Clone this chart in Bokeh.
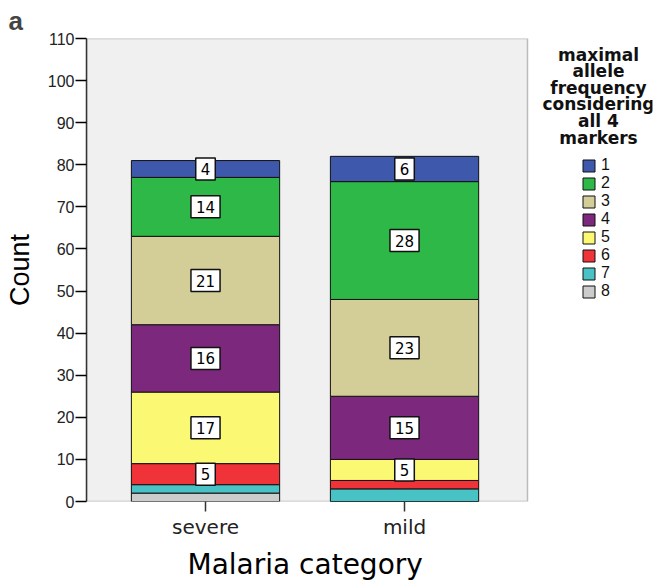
from bokeh.plotting import figure
from bokeh.models import (ColumnDataSource, Label, Legend, LegendItem, Title, Range1d,
                          BoxAnnotation, FixedTicker)
from bokeh.core.properties import value
from bokeh.embed import file_html
from bokeh.resources import INLINE

categories = ["severe", "mild"]
groups = ["1", "2", "3", "4", "5", "6", "7", "8"]
count_1 = [4, 6]
count_2 = [14, 28]
count_3 = [21, 23]
count_4 = [16, 15]
count_5 = [17, 5]
count_6 = [5, 2]
count_7 = [2, 3]
count_8 = [2, 0]
colors = ["#3E58AC", "#2EB848", "#D3CE97", "#7C287D", "#FBF873", "#EF3338", "#48C2C5", "#CCCCCC"]
y_ticks = list(range(0, 111, 10))
legend_title = "maximal\nallele\nfrequency\nconsidering\nall 4\nmarkers"
x_title = "Malaria category"
y_title = "Count"

series = [count_1, count_2, count_3, count_4, count_5, count_6, count_7, count_8]
x_pos = list(range(len(categories)))
data = {"x": x_pos, "cat": categories}
for g, s in zip(groups, series):
    data["c" + g] = s
source = ColumnDataSource(data)

p = figure(x_range=Range1d(-0.598, 2.246), y_range=Range1d(0, 110),
           frame_width=566, frame_height=463,
           output_backend="svg", toolbar_location=None,
           min_border_left=86, min_border_right=8, min_border_top=37, min_border_bottom=88)
p.background_fill_color = "white"
p.border_fill_color = "white"
p.outline_line_color = None
p.grid.visible = False

# grey chart area with its frame
p.add_layout(BoxAnnotation(right=1.618, fill_color="#F0F0F0", fill_alpha=1,
                           line_color="#333333", line_width=1.5, level="underlay"))

# stack from bottom (8) to top (1)
stack_order = list(reversed(groups))
renderers = p.vbar_stack(["c" + g for g in stack_order], x="x", width=0.745, source=source,
                         color=[colors[groups.index(g)] for g in stack_order],
                         line_color="#111111", line_width=1)
rmap = {g: r for g, r in zip(stack_order, renderers)}

# value labels (only segments >= 4)
lx, ly, lt = [], [], []
for ci in x_pos:
    base = 0
    for g in stack_order:
        v = series[groups.index(g)][ci]
        if v >= 4:
            lx.append(ci)
            ly.append(base + v / 2)
            lt.append(str(v))
        base += v
lsrc = ColumnDataSource(dict(x=lx, y=ly, t=lt))
p.text(x="x", y="y", text="t", source=lsrc, text_align="center", text_baseline="middle",
       text_font=value("DejaVu Sans"), text_font_size="15px", text_color="black",
       padding=5, background_fill_color="white", border_line_color="#111111", border_line_width=1.5)

# y axis
p.yaxis.ticker = y_ticks
p.yaxis.axis_label = y_title
p.yaxis.axis_label_text_font = "Liberation Sans"
p.yaxis.axis_label_text_font_size = "27px"
p.yaxis.axis_label_text_font_style = "normal"
p.yaxis.axis_label_text_color = "black"
p.yaxis.axis_label_standoff = 10
p.yaxis.major_label_text_font = "Liberation Sans"
p.yaxis.major_label_text_font_size = "16px"
p.yaxis.major_label_text_color = "#222222"
p.yaxis.minor_tick_line_color = None
p.yaxis.major_tick_in = 0
p.yaxis.major_tick_out = 11
p.yaxis.axis_line_color = "#333333"
p.yaxis.axis_line_width = 1.5
p.yaxis.major_tick_line_width = 1.5
p.yaxis.major_label_standoff = 1

# x axis (ticks only at the two categories)
p.xaxis.ticker = FixedTicker(ticks=x_pos)
p.xaxis.major_label_overrides = {i: c for i, c in zip(x_pos, categories)}
p.xaxis.minor_tick_line_color = None
p.xaxis.axis_line_color = None
p.xaxis.major_label_text_font = "DejaVu Sans"
p.xaxis.major_label_text_font_size = "20px"
p.xaxis.major_label_text_color = "#222222"
p.xaxis.major_tick_in = 0
p.xaxis.major_tick_out = 10
p.xaxis.major_tick_line_color = "#333333"
p.xaxis.major_tick_line_width = 1.5
p.xaxis.major_label_standoff = 3

# x axis title, centred under the grey chart area
p.add_layout(Title(text=x_title, align="left", offset=101, text_font="DejaVu Sans",
                   text_font_size="28px", text_font_style="normal", text_color="black",
                   standoff=8), "below")

# legend title
p.add_layout(Label(x=512, y=457, x_units="screen", y_units="screen",
                   text=legend_title,
                   text_align="center", text_baseline="top", text_line_height=0.83,
                   text_font="DejaVu Sans", text_font_size="17px", text_font_style="bold",
                   text_color="#111111"))

# legend items
legend = Legend(items=[LegendItem(label=g, renderers=[rmap[g]]) for g in groups],
                location=(495, 201), padding=0, margin=0, spacing=0,
                glyph_width=15, glyph_height=15, label_height=15, label_standoff=5,
                label_text_font="Liberation Sans", label_text_font_size="16px",
                label_text_color="#111111",
                background_fill_alpha=0, border_line_color=None)
p.add_layout(legend, "center")

p.add_layout(Title(text="a", align="left", offset=-78, text_font="Liberation Sans",
                   text_font_size="26px", text_font_style="bold", standoff=6), "above")

open("out.html", "w").write(file_html(p, INLINE))
